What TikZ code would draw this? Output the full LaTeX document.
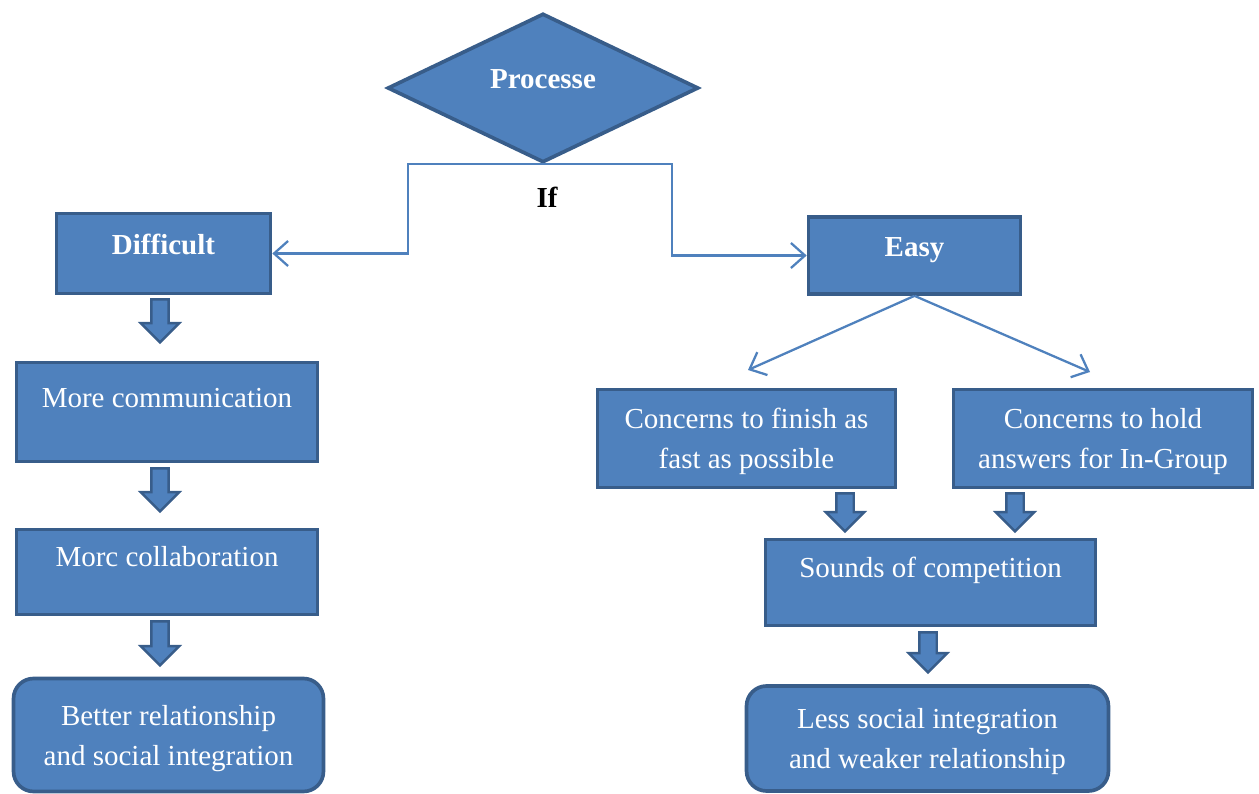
\documentclass[tikz,border=0pt]{standalone}
\usepackage{fontspec}
\setmainfont{Liberation Serif}
\usetikzlibrary{shapes.geometric,shapes.arrows,arrows.meta}
\definecolor{boxfill}{HTML}{4F81BD}
\definecolor{boxline}{HTML}{385D8A}

\begin{document}
\begin{tikzpicture}[x=0.02cm,y=-0.02cm,
  every node/.style={font=\fontsize{16.5}{22.8}\selectfont},
  bold/.style={font=\fontsize{16.5}{22.8}\selectfont\bfseries},
  box/.style={draw=boxline,fill=boxfill,line width=2.1pt,text=white,align=center,inner sep=0pt},
  rbox/.style={box,rounded corners=0.4cm},
  lift/.style={text height=0.4cm,text depth=#1},
  sink/.style={text depth=0pt},
  link/.style={draw=boxfill,line width=1.3pt,-{Straight Barb[length=0.28cm,width=0.5cm]}},
  blockarr/.style={single arrow,draw=boxline,fill=boxfill,line width=1.4pt,shape border rotate=270,
    inner sep=0.15cm,single arrow head extend=0.21cm,minimum height=#1}]
\useasboundingbox (0,0) rectangle (1259,794);
% decision
\node[diamond,box,bold,aspect=2,minimum width=6.22cm,minimum height=2.98cm,lift=0.36cm] (proc) at (543,88) {Processe};
\node[bold,text=black] (iftxt) at (547,197) {If};
% left branch
\node[box,bold,minimum width=4.28cm,minimum height=1.6cm,lift=0.36cm] (difficult) at (163.5,253.5) {Difficult};
\node[box,minimum width=6.02cm,minimum height=1.98cm,lift=0.6cm] (comm) at (167,412) {More communication};
\node[box,minimum width=6.02cm,minimum height=1.7cm,lift=0.64cm] (collab) at (167,572) {Morc collaboration};
\node[rbox,sink,minimum width=6.2cm,minimum height=2.26cm] (better) at (168.5,735) {Better relationship\\and social integration};
% right branch
\node[box,bold,minimum width=4.24cm,minimum height=1.54cm,lift=0.36cm] (easy) at (914.5,255.5) {Easy};
\node[box,sink,minimum width=5.96cm,minimum height=1.96cm] (finish) at (746.5,438.5) {Concerns to finish as\\fast as possible};
\node[box,sink,minimum width=5.98cm,minimum height=1.96cm] (hold) at (1103,438.5) {Concerns to hold\\answers for In-Group};
\node[box,minimum width=6.6cm,minimum height=1.72cm,lift=0.6cm] (sounds) at (930.5,582.5) {Sounds of competition};
\node[rbox,sink,minimum width=7.24cm,minimum height=2.1cm] (less) at (927.5,738.5) {Less social integration\\and weaker relationship};
% block arrows
\node[blockarr=0.86cm] (a1) at (160,316.5) {};
\node[blockarr=0.86cm] (a2) at (160,485.5) {};
\node[blockarr=0.88cm] (a3) at (160,639) {};
\node[blockarr=0.76cm] (a4) at (845,508) {};
\node[blockarr=0.76cm] (a5) at (1015,508) {};
\node[blockarr=0.8cm] (a6) at (928,648) {};
% connectors
\coordinate (jl) at (408,253.5);
\coordinate (jr) at (672,255.5);
\coordinate (ef) at (748,370);
\coordinate (eh) at (1090,372);
\draw[link] (proc.south) -| (jl) -- (difficult.east);
\draw[link] (proc.south) -| (jr) -- (easy.west);
\draw[link] (easy.south) -- (ef);
\draw[link] (easy.south) -- (eh);
\end{tikzpicture}
\end{document}
